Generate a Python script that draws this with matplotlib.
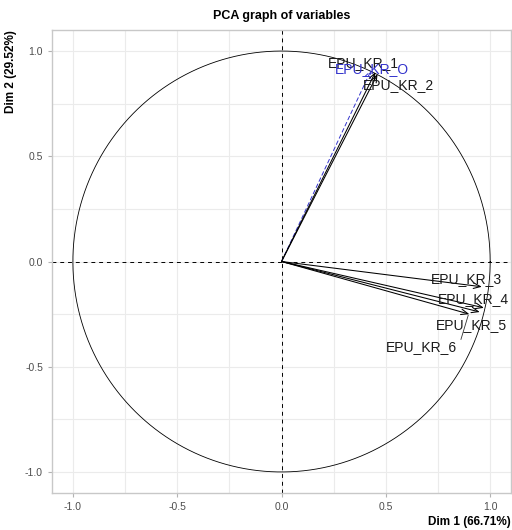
import numpy as np
import matplotlib
matplotlib.use("Agg")
from matplotlib import pyplot as plt

plt.rcParams['font.family'] = ['Liberation Sans', 'DejaVu Sans']

# active variables: coordinates on Dim 1 / Dim 2
var_names = ['EPU_KR_1', 'EPU_KR_2', 'EPU_KR_3', 'EPU_KR_4', 'EPU_KR_5', 'EPU_KR_6']
dim1 = [0.45, 0.46, 0.96, 0.97, 0.95, 0.90]
dim2 = [0.90, 0.89, -0.12, -0.22, -0.24, -0.25]
# label positions (repelled)
lab_x = [0.39, 0.56, 0.885, 0.92, 0.91, 0.67]
lab_y = [0.945, 0.84, -0.085, -0.18, -0.30, -0.405]

# supplementary variable
sup_name = 'EPU_KR_O'
sup_dim1 = 0.43
sup_dim2 = 0.91
sup_lab = (0.435, 0.915)

fig = plt.figure(figsize=(5.12, 5.30), dpi=100)
ax = fig.add_axes([0.1016, 0.0698, 0.8965, 0.8736])

grid_col = '#EBEBEB'
for v in np.arange(-1.0, 1.01, 0.25):
    ax.axvline(v, color=grid_col, lw=0.8, zorder=0)
    ax.axhline(v, color=grid_col, lw=0.8, zorder=0)

t = np.linspace(0, 2 * np.pi, 400)
ax.plot(np.cos(t), np.sin(t), color='black', lw=0.6, zorder=1)
ax.axhline(0, color='black', lw=0.7, ls=(0, (4, 4)), zorder=1)
ax.axvline(0, color='black', lw=0.7, ls=(0, (4, 4)), zorder=1)

for name, x, y, lx, ly in zip(var_names, dim1, dim2, lab_x, lab_y):
    ax.annotate('', xy=(x, y), xytext=(0, 0),
                arrowprops=dict(arrowstyle='->,head_length=0.5,head_width=0.2',
                                color='black', lw=0.75, shrinkA=0, shrinkB=0),
                zorder=3)
    ax.text(lx, ly, name, fontsize=10, color='#1a1a1a', ha='center', va='center', zorder=4)

# leader segment for EPU_KR_6
ax.plot([0.86, 0.895], [-0.37, -0.255], color='#333333', lw=0.6, zorder=3)

ax.annotate('', xy=(sup_dim1, sup_dim2), xytext=(0, 0),
            arrowprops=dict(arrowstyle='->,head_length=0.5,head_width=0.2',
                            color='#3333CC', lw=0.7, ls=(0, (4, 3)),
                            shrinkA=0, shrinkB=0), zorder=2)
ax.text(sup_lab[0], sup_lab[1], sup_name, fontsize=10, color='#3333CC',
        ha='center', va='center', zorder=4)

ax.set_xlim(-1.1, 1.1)
ax.set_ylim(-1.1, 1.1)
ax.set_xticks([-1.0, -0.5, 0.0, 0.5, 1.0])
ax.set_yticks([-1.0, -0.5, 0.0, 0.5, 1.0])
ax.set_xticklabels(['-1.0', '-0.5', '0.0', '0.5', '1.0'])
ax.set_yticklabels(['-1.0', '-0.5', '0.0', '0.5', '1.0'])
ax.tick_params(colors='#B3B3B3', labelcolor='#4D4D4D', labelsize=7.5, length=3, width=0.8)
for s in ax.spines.values():
    s.set_color('#C8C8C8')
    s.set_linewidth(1.0)

ax.set_title('PCA graph of variables', fontsize=9, fontweight='bold', pad=8)
ax.set_xlabel('Dim 1 (66.71%)', fontsize=8.5, fontweight='bold', loc='right', labelpad=3)
ax.set_ylabel('Dim 2 (29.52%)', fontsize=8.5, fontweight='bold', loc='top', labelpad=6)

fig.savefig('out.png', dpi=100)
